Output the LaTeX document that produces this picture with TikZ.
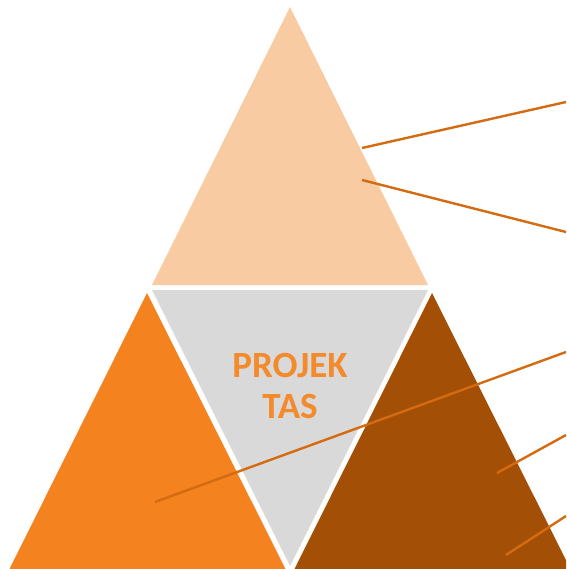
\documentclass[tikz,border=0pt]{standalone}
\usepackage{fontspec}
\setmainfont{Carlito}
\definecolor{peach}{HTML}{F9CBA2}
\definecolor{orng}{HTML}{F4821F}
\definecolor{brwn}{HTML}{A34F06}
\definecolor{grey}{HTML}{D9D9D9}
\definecolor{lineor}{HTML}{D56B10}
\definecolor{txtor}{HTML}{F38A2B}
\tikzset{
  leader/.style={draw=lineor, line width=2.4pt},
  label/.style={font=\fontsize{37}{42}\selectfont\bfseries, text=txtor, inner sep=0pt, anchor=base}
}
\begin{document}
\begin{tikzpicture}[x=1pt,y=-1pt]
\useasboundingbox (0,0) rectangle (566,569);
\begin{scope}
\clip (0,0) rectangle (566,569);
\fill[peach] (290,7) -- (152,285) -- (428,285) -- cycle;
\fill[grey] (152,290) -- (428,290) -- (290,566) -- cycle;
\fill[orng] (147,293) -- (9,570) -- (286,570) -- cycle;
\fill[brwn] (432,293) -- (294,570) -- (571,570) -- cycle;
\end{scope}
\node[label] (t1) at (290,377) {PROJEK};
\node[label] (t2) at (290,418) {TAS};
\coordinate (a1) at (362,148); \coordinate (b1) at (566,102);
\coordinate (a2) at (362,180); \coordinate (b2) at (566,232);
\coordinate (a3) at (155,502); \coordinate (b3) at (566,352);
\coordinate (a4) at (497,473); \coordinate (b4) at (566,435);
\coordinate (a5) at (506,555); \coordinate (b5) at (566,516);
\draw[leader] (a1) -- (b1);
\draw[leader] (a2) -- (b2);
\draw[leader] (a3) -- (b3);
\draw[leader] (a4) -- (b4);
\draw[leader] (a5) -- (b5);
\end{tikzpicture}
\end{document}
